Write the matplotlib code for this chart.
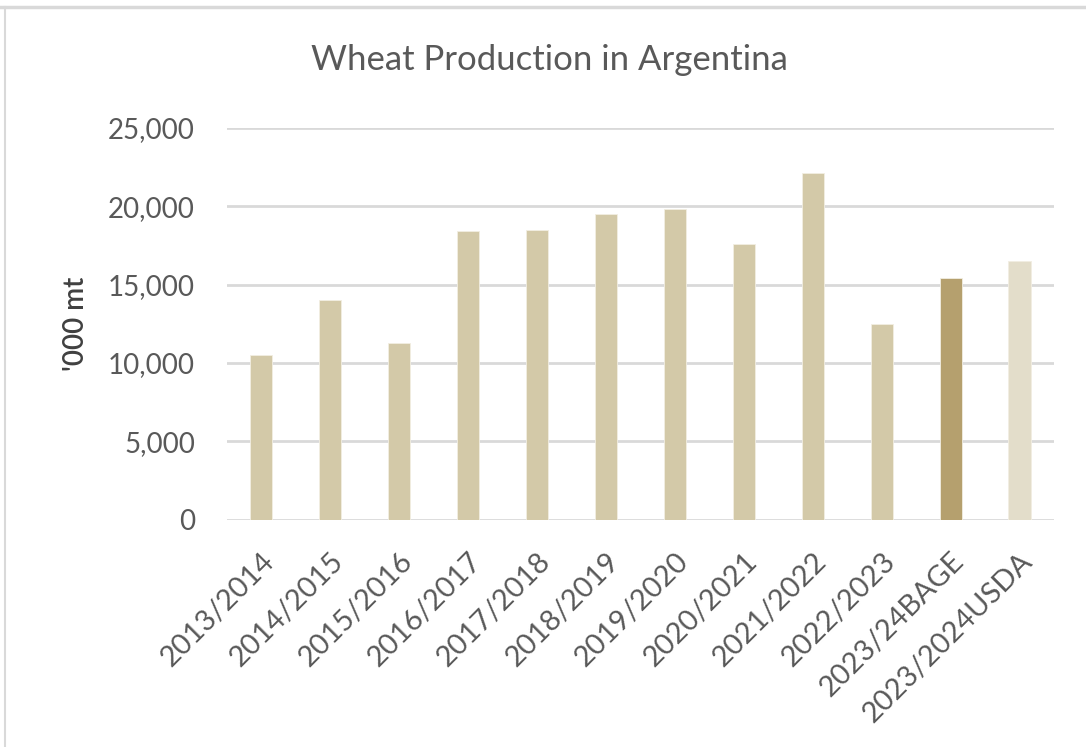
import matplotlib.pyplot as plt
from matplotlib.lines import Line2D
from matplotlib.ticker import FuncFormatter

seasons = ['2013/2014', '2014/2015', '2015/2016', '2016/2017', '2017/2018', '2018/2019',
           '2019/2020', '2020/2021', '2021/2022', '2022/2023', '2023/24BAGE', '2023/2024USDA']
production = [10500, 14000, 11300, 18400, 18500, 19500,
              19800, 17600, 22100, 12500, 15400, 16500]
bar_colors = ['#D3C9A8'] * 10 + ['#B5A06E', '#E3DDCA']

plt.rcParams['font.family'] = ['Lato', 'DejaVu Sans']
text_grey = '#595959'

fig = plt.figure(figsize=(10.86, 7.47), dpi=100)
ax = fig.add_axes([0.209, 0.304, 0.7615, 0.525])

x = range(len(seasons))
ax.bar(x, production, width=0.32, color=bar_colors, edgecolor='#F2EEE2', linewidth=0.6, zorder=3)

ax.set_xlim(-0.5, len(seasons) - 0.5)
ax.set_ylim(0, 25000)
ax.set_yticks(range(0, 25001, 5000))
ax.yaxis.set_major_formatter(FuncFormatter(lambda v, p: f'{int(v):,}'))
ax.grid(axis='y', color='#D9D9D9', linewidth=2.0, zorder=0)
ax.set_axisbelow(True)
for s in ['top', 'right', 'left', 'bottom']:
    ax.spines[s].set_visible(False)
ax.tick_params(axis='both', length=0, labelcolor=text_grey)
ax.tick_params(axis='y', pad=23, labelsize=20)
ax.tick_params(axis='x', pad=20, labelsize=21)

ax.set_xticks(list(x))
ax.set_xticklabels(seasons, rotation=45, ha='right', rotation_mode='anchor')

ax.set_ylabel("'000 mt", fontsize=20, color='#404040', fontweight='semibold', labelpad=14)

fig.suptitle('Wheat Production in Argentina', x=0.506, y=0.92, va='center',
             fontsize=25, color=text_grey)

# frame lines at top and left like the source screenshot
fig.add_artist(Line2D([0, 1], [0.991, 0.991], transform=fig.transFigure, color='#D9D9D9', linewidth=2.5))
fig.add_artist(Line2D([0.0046, 0.0046], [0, 0.991], transform=fig.transFigure, color='#D9D9D9', linewidth=1.5))

fig.savefig('out.png', dpi=100, facecolor='white')
